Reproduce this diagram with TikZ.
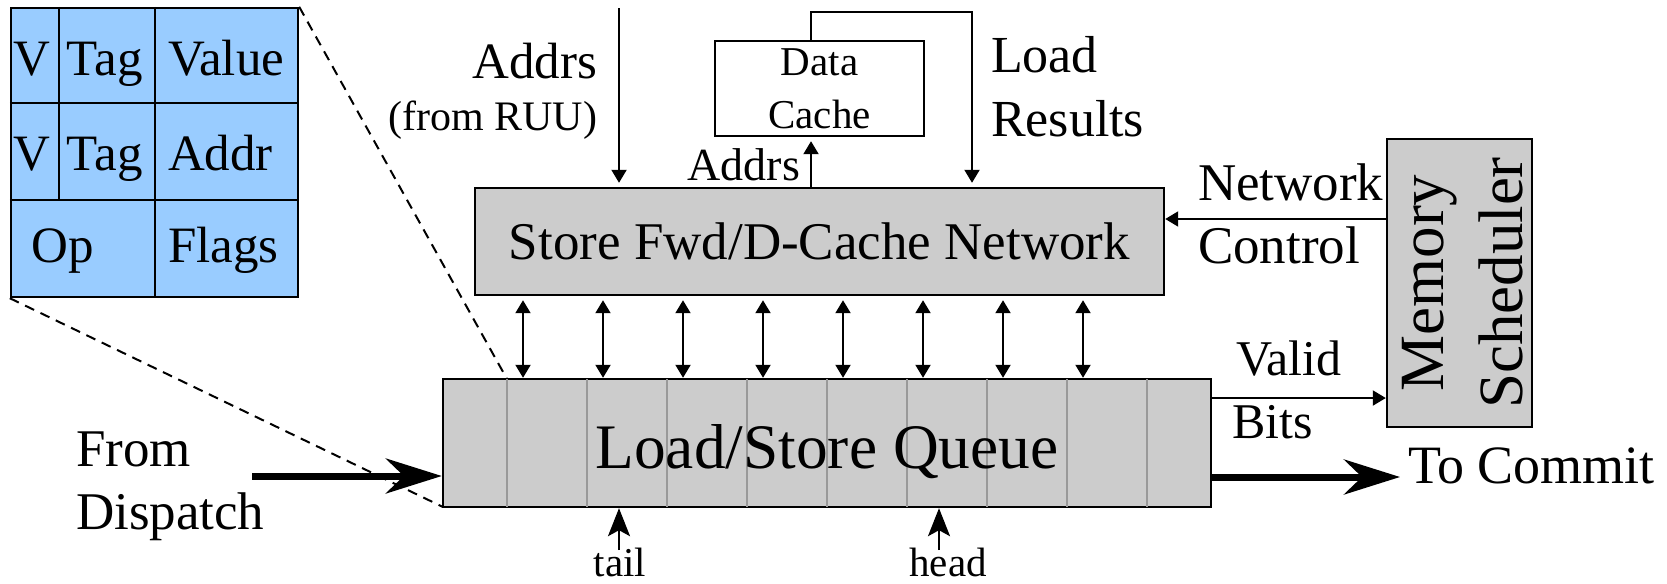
\documentclass[tikz,border=0pt]{standalone}
\usepackage{fontspec}
\setmainfont{Liberation Serif}
\usetikzlibrary{arrows.meta}
\definecolor{boxgray}{HTML}{CCCCCC}
\definecolor{cellblue}{HTML}{99CCFF}
\definecolor{divgray}{HTML}{999999}
\newcommand{\fsz}[2]{\fontsize{#1}{#2}\selectfont}
\begin{document}
\begin{tikzpicture}[x=0.5pt,y=-0.5pt,
  box/.style={draw=black,fill=boxgray,line width=1.2pt,inner sep=0pt},
  txt/.style={inner sep=0pt,outer sep=0pt},
  arr/.style={-{Triangle[length=6.5pt,width=7.5pt]},line width=1pt},
  dbl/.style={{Triangle[length=6.5pt,width=7.5pt]}-{Triangle[length=6.5pt,width=7.5pt]},line width=1pt},
  fat/.style={-{Stealth[length=28pt,width=17.5pt,inset=9pt]},line width=3.5pt},
  ptr/.style={-{Stealth[length=14pt,width=11pt,inset=3pt]},line width=1pt},
  cell/.style={draw=black,fill=cellblue,line width=1.2pt,inner sep=0pt},
  zoomline/.style={dash pattern=on 5pt off 3.5pt,line width=1pt},
  lbl/.style={txt,font=\fsz{26}{26}},
  tbltxt/.style={txt,anchor=base west,font=\fsz{25.5}{25.5}}
]
\useasboundingbox (0,0) rectangle (1667,584);

% detail table
\node[cell,minimum width=143.5pt,minimum height=144.5pt] (tbl) at (154.5,152.5) {};
\draw[line width=1.2pt] (59,0 |- tbl.north) -- (59,200);
\draw[line width=1.2pt] (155,0 |- tbl.north) -- (155,0 |- tbl.south);
\draw[line width=1.2pt] (tbl.west |- 0,103) -- (tbl.east |- 0,103);
\draw[line width=1.2pt] (tbl.west |- 0,200) -- (tbl.east |- 0,200);
\node[tbltxt] (tv1) at (13,75) {V};
\node[tbltxt] (ttag1) at (67,75) {Tag};
\node[tbltxt] (tval) at (168,75) {Value};
\node[tbltxt] (tv2) at (13,170) {V};
\node[tbltxt] (ttag2) at (67,170) {Tag};
\node[tbltxt] (taddr) at (168,170) {Addr};
\node[tbltxt] (top) at (32,262) {Op};
\node[tbltxt] (tflags) at (168,262) {Flags};

% load/store queue and zoom lines
\coordinate (lsqc) at (827,443);
\draw[zoomline] (tbl.north east) -- (507,379);
\draw[zoomline] (tbl.south west) -- (443,507);
\node[box,minimum width=384pt,minimum height=64pt] (lsq) at (lsqc) {};
\foreach \x in {507,587,...,1147}
  \draw[divgray,line width=1.1pt,shorten <=0.6pt,shorten >=0.6pt] (\x,0 |- lsq.north) -- (\x,0 |- lsq.south);
\node[txt,anchor=base,font=\fsz{31.7}{31.7}] (lsqt) at (827,468) {Load/Store Queue};

\node[box,minimum width=344.5pt,minimum height=53.5pt,font=\fsz{26.5}{26.5}] (store) at (819.5,241.5) {Store Fwd/D-Cache Network};

\node[box,minimum width=72.5pt,minimum height=144pt] (mem) at (1459.5,283) {};
\node[txt,rotate=90,anchor=base,font=\fsz{31.5}{31.5}] (memt1) at (1443,283) {Memory};
\node[txt,rotate=90,anchor=base,font=\fsz{31.5}{31.5}] (memt2) at (1522,283) {Scheduler};

\node[draw=black,fill=white,line width=1.2pt,inner sep=0pt,minimum width=104.5pt,minimum height=47.5pt,align=center,font=\fsz{20.5}{26.5}] (cache) at (819.5,88.5) {Data\\Cache};

% labels
\node[lbl,anchor=base east,font=\fsz{25.5}{25.5}] (addrsA) at (597,78) {Addrs};
\node[txt,anchor=base east,font=\fsz{21}{21}] (fromruu) at (597,130) {(from RUU)};
\node[txt,anchor=base east,font=\fsz{23}{23}] (addrsB) at (800,180) {Addrs};
\node[lbl,anchor=base west] (load) at (991,72) {Load};
\node[lbl,anchor=base west] (results) at (991,136) {Results};
\node[lbl,anchor=base west,font=\fsz{26.5}{26.5}] (network) at (1198,200) {Network};
\node[lbl,anchor=base west,font=\fsz{26.5}{26.5}] (control) at (1198,263) {Control};
\node[lbl,anchor=base west,font=\fsz{25}{25}] (valid) at (1236,375) {Valid};
\node[lbl,anchor=base west,font=\fsz{25}{25}] (bits) at (1232,438) {Bits};
\node[lbl,anchor=base west,font=\fsz{27}{27}] (tocommit) at (1408,483) {To Commit};
\node[lbl,anchor=base west,font=\fsz{26.5}{26.5}] (from) at (76,466) {From};
\node[lbl,anchor=base west,font=\fsz{26.5}{26.5}] (dispatch) at (76,529) {Dispatch};
\node[txt,anchor=base,font=\fsz{20.5}{20.5}] (tail) at (620,576) {tail};
\node[txt,anchor=base,font=\fsz{20.5}{20.5}] (head) at (948,576) {head};

% connectors
\coordinate (ruuTop) at (619,8);
\draw[arr,shorten >=2pt] (ruuTop) -- (ruuTop |- store.north);
\draw[arr,shorten >=2pt] (811,0 |- store.north) -- (811,0 |- cache.south);
\draw[arr,shorten >=2pt] (811,0 |- cache.north) -- (811,12) -- (972,12) -- (972,0 |- store.north);
\draw[arr] (mem.west |- 0,219) -- (store.east |- 0,219);
\draw[arr] (lsq.east |- 0,398) -- (mem.west |- 0,398);
\coordinate (commitEnd) at (1400,477);
\draw[fat] (lsq.east |- commitEnd) -- (commitEnd);
\coordinate (dispStart) at (252,476);
\draw[fat] (dispStart) -- (lsq.west |- dispStart);
\foreach \x in {523,603,...,1083}
  \draw[dbl,shorten <=2pt] (\x,0 |- store.south) -- (\x,0 |- lsq.north);
\coordinate (tailS) at (619,550);
\coordinate (headS) at (939,550);
\draw[ptr] (tailS) -- (tailS |- lsq.south);
\draw[ptr] (headS) -- (headS |- lsq.south);
\end{tikzpicture}
\end{document}
